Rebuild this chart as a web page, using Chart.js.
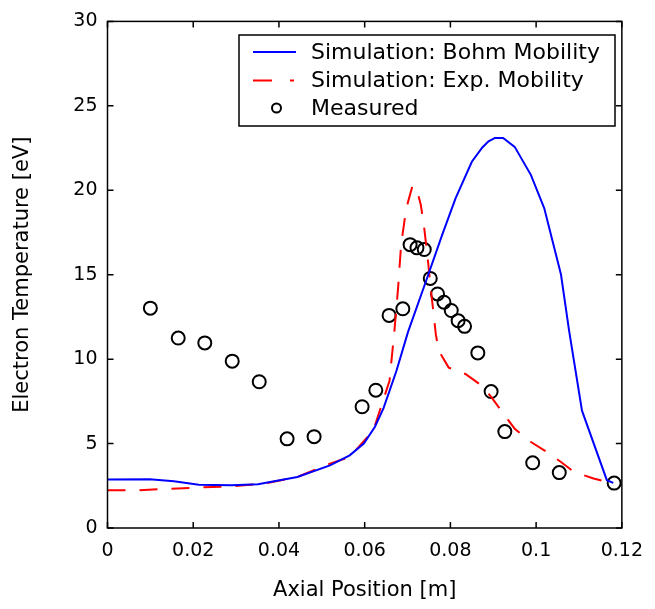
<!DOCTYPE html>
<html>
<head>
<meta charset="utf-8">
<script src="https://cdn.jsdelivr.net/npm/chart.js@4/dist/chart.umd.min.js"></script>
<style>
  html, body { margin: 0; padding: 0; background: #fff; }
  #wrap { width: 655px; height: 609px; }
</style>
</head>
<body>
<div id="wrap"><canvas id="chart" width="655" height="609"></canvas></div>
<script>
// values
const bohmX = [0, 0.0098, 0.0155, 0.0213, 0.0289, 0.0351, 0.0443, 0.0519, 0.0565, 0.0598, 0.0624, 0.0644, 0.0674, 0.0701, 0.0743, 0.0781, 0.0812, 0.085, 0.0875, 0.0889, 0.0904, 0.0923, 0.095, 0.0988, 0.1019, 0.1058, 0.1077, 0.1107, 0.1165, 0.118];
const bohmY = [2.87, 2.89, 2.77, 2.56, 2.53, 2.59, 3.02, 3.71, 4.3, 5.0, 6.0, 7.1, 9.3, 11.6, 14.61, 17.37, 19.52, 21.69, 22.55, 22.9, 23.1, 23.1, 22.57, 20.9, 18.93, 15.01, 11.67, 6.95, 2.83, 2.67];

const expX = [0, 0.0075, 0.0213, 0.0289, 0.0367, 0.0443, 0.0519, 0.0565, 0.062, 0.0658, 0.067, 0.0678, 0.0685, 0.0697, 0.0711, 0.072, 0.0731, 0.0739, 0.0747, 0.0754, 0.076, 0.0766, 0.0773, 0.0796, 0.0835, 0.0873, 0.0896, 0.0927, 0.095, 0.0988, 0.1019, 0.1058, 0.1088, 0.1134, 0.1165, 0.118];
const expY = [2.24, 2.24, 2.4, 2.47, 2.63, 3.02, 3.81, 4.2, 5.77, 8.72, 11.86, 14.22, 16.78, 18.93, 20.21, 20.21, 19.13, 17.75, 15.99, 14.22, 12.85, 11.47, 10.49, 9.5, 9.12, 8.43, 7.74, 6.66, 5.88, 5.09, 4.6, 3.91, 3.32, 2.93, 2.73, 2.67];

const measX = [0.0100, 0.0165, 0.0227, 0.0291, 0.0354, 0.0419, 0.0482, 0.0594, 0.0626, 0.0657, 0.0689, 0.0706, 0.0722, 0.0739, 0.0753, 0.0770, 0.0785, 0.0802, 0.0818, 0.0833, 0.0864, 0.0895, 0.0927, 0.0992, 0.1054, 0.1182];
const measY = [13.02, 11.25, 10.96, 9.88, 8.66, 5.28, 5.41, 7.18, 8.16, 12.59, 12.98, 16.78, 16.59, 16.49, 14.78, 13.86, 13.37, 12.88, 12.28, 11.94, 10.37, 8.08, 5.71, 3.86, 3.28, 2.66];

const xTicks = [0, 0.02, 0.04, 0.06, 0.08, 0.1, 0.12];
const yTicks = [0, 5, 10, 15, 20, 25, 30];

const seriesNames = ['Simulation: Bohm Mobility', 'Simulation: Exp. Mobility', 'Measured'];

const FONT = "'DejaVu Sans', sans-serif";

function toPoints(xs, ys) {
    return xs.map((x, i) => ({ x: x, y: ys[i] }));
}

// matlab style box: frame plus inward ticks on all four sides
const boxTicks = {
    id: 'boxTicks',
    afterDatasetsDraw(chart) {
        const { ctx, chartArea: a, scales } = chart;
        const len = 6;
        ctx.save();
        ctx.strokeStyle = '#000';
        ctx.lineWidth = 1.5;
        ctx.strokeRect(a.left, a.top, a.right - a.left, a.bottom - a.top);
        ctx.beginPath();
        xTicks.forEach(v => {
            const px = scales.x.getPixelForValue(v);
            ctx.moveTo(px, a.bottom); ctx.lineTo(px, a.bottom - len);
            ctx.moveTo(px, a.top); ctx.lineTo(px, a.top + len);
        });
        yTicks.forEach(v => {
            const py = scales.y.getPixelForValue(v);
            ctx.moveTo(a.left, py); ctx.lineTo(a.left + len, py);
            ctx.moveTo(a.right, py); ctx.lineTo(a.right - len, py);
        });
        ctx.stroke();
        ctx.restore();
    }
};

// legend box in the upper right, drawn like the matlab one
const boxLegend = {
    id: 'boxLegend',
    afterDraw(chart) {
        const ctx = chart.ctx;
        const ds = chart.data.datasets;
        const left = 239, top = 35, right = 615, bottom = 126;
        const rows = [52, 80.5, 108];
        ctx.save();
        ctx.fillStyle = '#fff';
        ctx.fillRect(left, top, right - left, bottom - top);
        ctx.strokeStyle = '#000';
        ctx.lineWidth = 1.5;
        ctx.strokeRect(left, top, right - left, bottom - top);

        // blue line
        ctx.strokeStyle = ds[0].borderColor;
        ctx.lineWidth = 2;
        ctx.beginPath();
        ctx.moveTo(253, rows[0]); ctx.lineTo(296, rows[0]);
        ctx.stroke();
        // red dash + dot
        ctx.strokeStyle = ds[1].borderColor;
        ctx.beginPath();
        ctx.moveTo(253, rows[1]); ctx.lineTo(272, rows[1]);
        ctx.moveTo(290, rows[1]); ctx.lineTo(294, rows[1]);
        ctx.stroke();
        // circle
        ctx.strokeStyle = '#000';
        ctx.beginPath();
        ctx.arc(276.5, rows[2], 4.5, 0, Math.PI * 2);
        ctx.stroke();

        ctx.fillStyle = '#000';
        ctx.font = '22px ' + FONT;
        ctx.textBaseline = 'middle';
        seriesNames.forEach((name, i) => ctx.fillText(name, 311, rows[i] + 1));
        ctx.restore();
    }
};

new Chart(document.getElementById('chart').getContext('2d'), {
    type: 'scatter',
    data: {
        datasets: [
            {
                label: seriesNames[0],
                data: toPoints(bohmX, bohmY),
                showLine: true,
                borderColor: 'rgb(0, 0, 255)',
                borderWidth: 2,
                pointRadius: 0,
                tension: 0
            },
            {
                label: seriesNames[1],
                data: toPoints(expX, expY),
                showLine: true,
                borderColor: 'rgb(255, 0, 0)',
                borderWidth: 2,
                borderDash: [18, 14],
                pointRadius: 0,
                tension: 0
            },
            {
                label: seriesNames[2],
                data: toPoints(measX, measY),
                showLine: false,
                pointRadius: 6.5,
                pointBorderWidth: 2,
                pointBorderColor: '#000',
                pointBackgroundColor: 'rgba(0,0,0,0)'
            }
        ]
    },
    options: {
        responsive: false,
        animation: false,
        layout: { padding: { top: 19, right: 26.5, bottom: 0, left: 0 } },
        plugins: {
            legend: { display: false },
            tooltip: { enabled: false }
        },
        scales: {
            x: {
                type: 'linear',
                min: 0,
                max: 0.12,
                afterBuildTicks: s => { s.ticks = xTicks.map(v => ({ value: v })); },
                afterFit: s => { s.height = 81; },
                grid: { drawOnChartArea: false, drawTicks: false },
                border: { display: false },
                ticks: {
                    color: '#000',
                    padding: 12,
                    maxRotation: 0,
                    font: { family: FONT, size: 19 },
                    callback: v => String(v)
                },
                title: {
                    display: true,
                    text: 'Axial Position [m]',
                    color: '#000',
                    font: { family: FONT, size: 21 },
                    padding: { top: 0, bottom: 6 }
                }
            },
            y: {
                type: 'linear',
                min: 0,
                max: 30,
                afterBuildTicks: s => { s.ticks = yTicks.map(v => ({ value: v })); },
                afterFit: s => { s.width = 107.5; },
                grid: { drawOnChartArea: false, drawTicks: false },
                border: { display: false },
                ticks: {
                    color: '#000',
                    padding: 10,
                    font: { family: FONT, size: 19 }
                },
                title: {
                    display: true,
                    text: 'Electron Temperature [eV]',
                    color: '#000',
                    font: { family: FONT, size: 21 },
                    padding: { top: 10, bottom: 0 }
                }
            }
        }
    },
    plugins: [boxTicks, boxLegend]
});
</script>
</body>
</html>
